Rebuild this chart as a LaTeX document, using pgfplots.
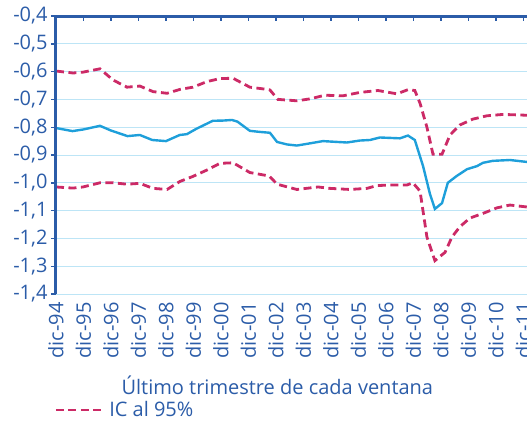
\documentclass[border=0pt]{standalone}
\usepackage{fontspec}
\setmainfont{Open Sans}
\usepackage{pgfplots}
\pgfplotsset{compat=1.18}
\definecolor{axblue}{HTML}{2B5CA8}
\definecolor{linblue}{HTML}{1E9FDA}
\definecolor{icred}{HTML}{CC2A66}
\definecolor{gridblue}{HTML}{BDE5F6}

\begin{document}
\begin{tikzpicture}[font=\fontsize{20}{22}\selectfont]
\path[use as bounding box] (-56pt,-138pt) rectangle (471pt,294pt);
\begin{axis}[
  scale only axis, width=471pt, height=278pt,
  xmin=0, xmax=17.13, ymin=-1.4, ymax=-0.4,
  axis line style={draw=none},
  xtick={0,1,...,17},
  xticklabels={dic-94,dic-95,dic-96,dic-97,dic-98,dic-99,dic-00,dic-01,dic-02,
    dic-03,dic-04,dic-05,dic-06,dic-07,dic-08,dic-09,dic-10,dic-11},
  xtick pos=right, xticklabel pos=left,
  xtick align=inside,
  xticklabel style={rotate=90, anchor=east, text=axblue},
  xticklabel shift=5pt,
  ytick={-1.4,-1.3,-1.2,-1.1,-1.0,-0.9,-0.8,-0.7,-0.6,-0.5,-0.4},
  yticklabels={{-1,4},{-1,3},{-1,2},{-1,1},{-1,0},{-0,9},{-0,8},{-0,7},{-0,6},{-0,5},{-0,4}},
  ytick pos=left, ytick align=outside,
  yticklabel style={text=axblue},
  major tick length=5pt,
  tick style={axblue, line width=1.4pt},
  ymajorgrids, grid style={gridblue, line width=1pt},
  xlabel={Último trimestre de cada ventana},
  xlabel style={at={(axis description cs:0.47,-0.327)}, anchor=center, text=axblue},
  legend style={at={(axis description cs:-0.01,-0.417)}, anchor=west,
    draw=none, fill=none, text=axblue, font=\fontsize{20}{22}\selectfont},
  legend image code/.code={\draw[#1] (0pt,0pt) -- (50pt,0pt);},
  clip=false,
]
  \addplot[icred, line width=2.8pt, dash pattern=on 8pt off 4.5pt] coordinates {
    (0,-0.598) (0.62,-0.605) (0.98,-0.602) (1.6,-0.59) (2.07,-0.63)
    (2.58,-0.656) (3.05,-0.652) (3.53,-0.672) (4.04,-0.678) (4.51,-0.664)
    (4.98,-0.656) (5.49,-0.636) (5.96,-0.625) (6.44,-0.624) (7.05,-0.656)
    (7.67,-0.664) (7.78,-0.666) (8.07,-0.70) (8.76,-0.705) (9.24,-0.698)
    (9.78,-0.685) (10.44,-0.687) (11.05,-0.675) (11.71,-0.668) (12.4,-0.68)
    (12.8,-0.665) (13.05,-0.668) (13.24,-0.714) (13.49,-0.80) (13.71,-0.897)
    (14.04,-0.897) (14.33,-0.828) (14.69,-0.792) (15.16,-0.771) (15.67,-0.759)
    (16.25,-0.754) (17.13,-0.757)
  };
  \addlegendentry{IC al 95\%}
  \addplot[icred, line width=2.8pt, dash pattern=on 8pt off 4.5pt, forget plot] coordinates {
    (0,-1.015) (0.62,-1.019) (0.98,-1.015) (1.6,-1.0) (2.07,-1.0)
    (2.58,-1.005) (3.05,-1.002) (3.53,-1.02) (4.04,-1.024) (4.51,-0.995)
    (4.98,-0.977) (5.49,-0.954) (5.96,-0.93) (6.44,-0.928) (7.05,-0.963)
    (7.67,-0.974) (7.78,-0.978) (8.04,-1.005) (8.76,-1.024) (9.53,-1.015)
    (9.96,-1.02) (10.69,-1.024) (11.31,-1.02) (11.67,-1.01) (12.15,-1.008)
    (12.76,-1.008) (12.98,-1.0) (13.24,-1.03) (13.49,-1.195) (13.78,-1.28)
    (14.15,-1.25) (14.4,-1.195) (14.69,-1.158) (15.05,-1.127) (15.53,-1.11)
    (16.04,-1.09) (16.51,-1.08) (17.13,-1.087)
  };
  \addplot[linblue, line width=2.4pt, forget plot] coordinates {
    (0,-0.803) (0.6,-0.814) (1.0,-0.808) (1.6,-0.795) (2.0,-0.812)
    (2.6,-0.832) (3.05,-0.828) (3.5,-0.846) (4.0,-0.85) (4.5,-0.828)
    (4.76,-0.825) (5.1,-0.806) (5.7,-0.777) (6.1,-0.776) (6.4,-0.774)
    (6.6,-0.78) (7.05,-0.813) (7.42,-0.817) (7.78,-0.82) (8.04,-0.853)
    (8.4,-0.862) (8.76,-0.866) (9.24,-0.858) (9.71,-0.85) (10.22,-0.853)
    (10.58,-0.855) (11.05,-0.848) (11.42,-0.846) (11.78,-0.837) (12.51,-0.84)
    (12.8,-0.83) (13.05,-0.846) (13.35,-0.94) (13.6,-1.04) (13.78,-1.094)
    (14.04,-1.073) (14.25,-1.0) (14.58,-0.975) (14.95,-0.951) (15.31,-0.94)
    (15.53,-0.928) (15.89,-0.921) (16.51,-0.918) (17.13,-0.925)
  };
  \draw[axblue, line width=3pt] (rel axis cs:0,0) -- (rel axis cs:0,1)
    -- (rel axis cs:1,1);
\end{axis}
\end{tikzpicture}
\end{document}
